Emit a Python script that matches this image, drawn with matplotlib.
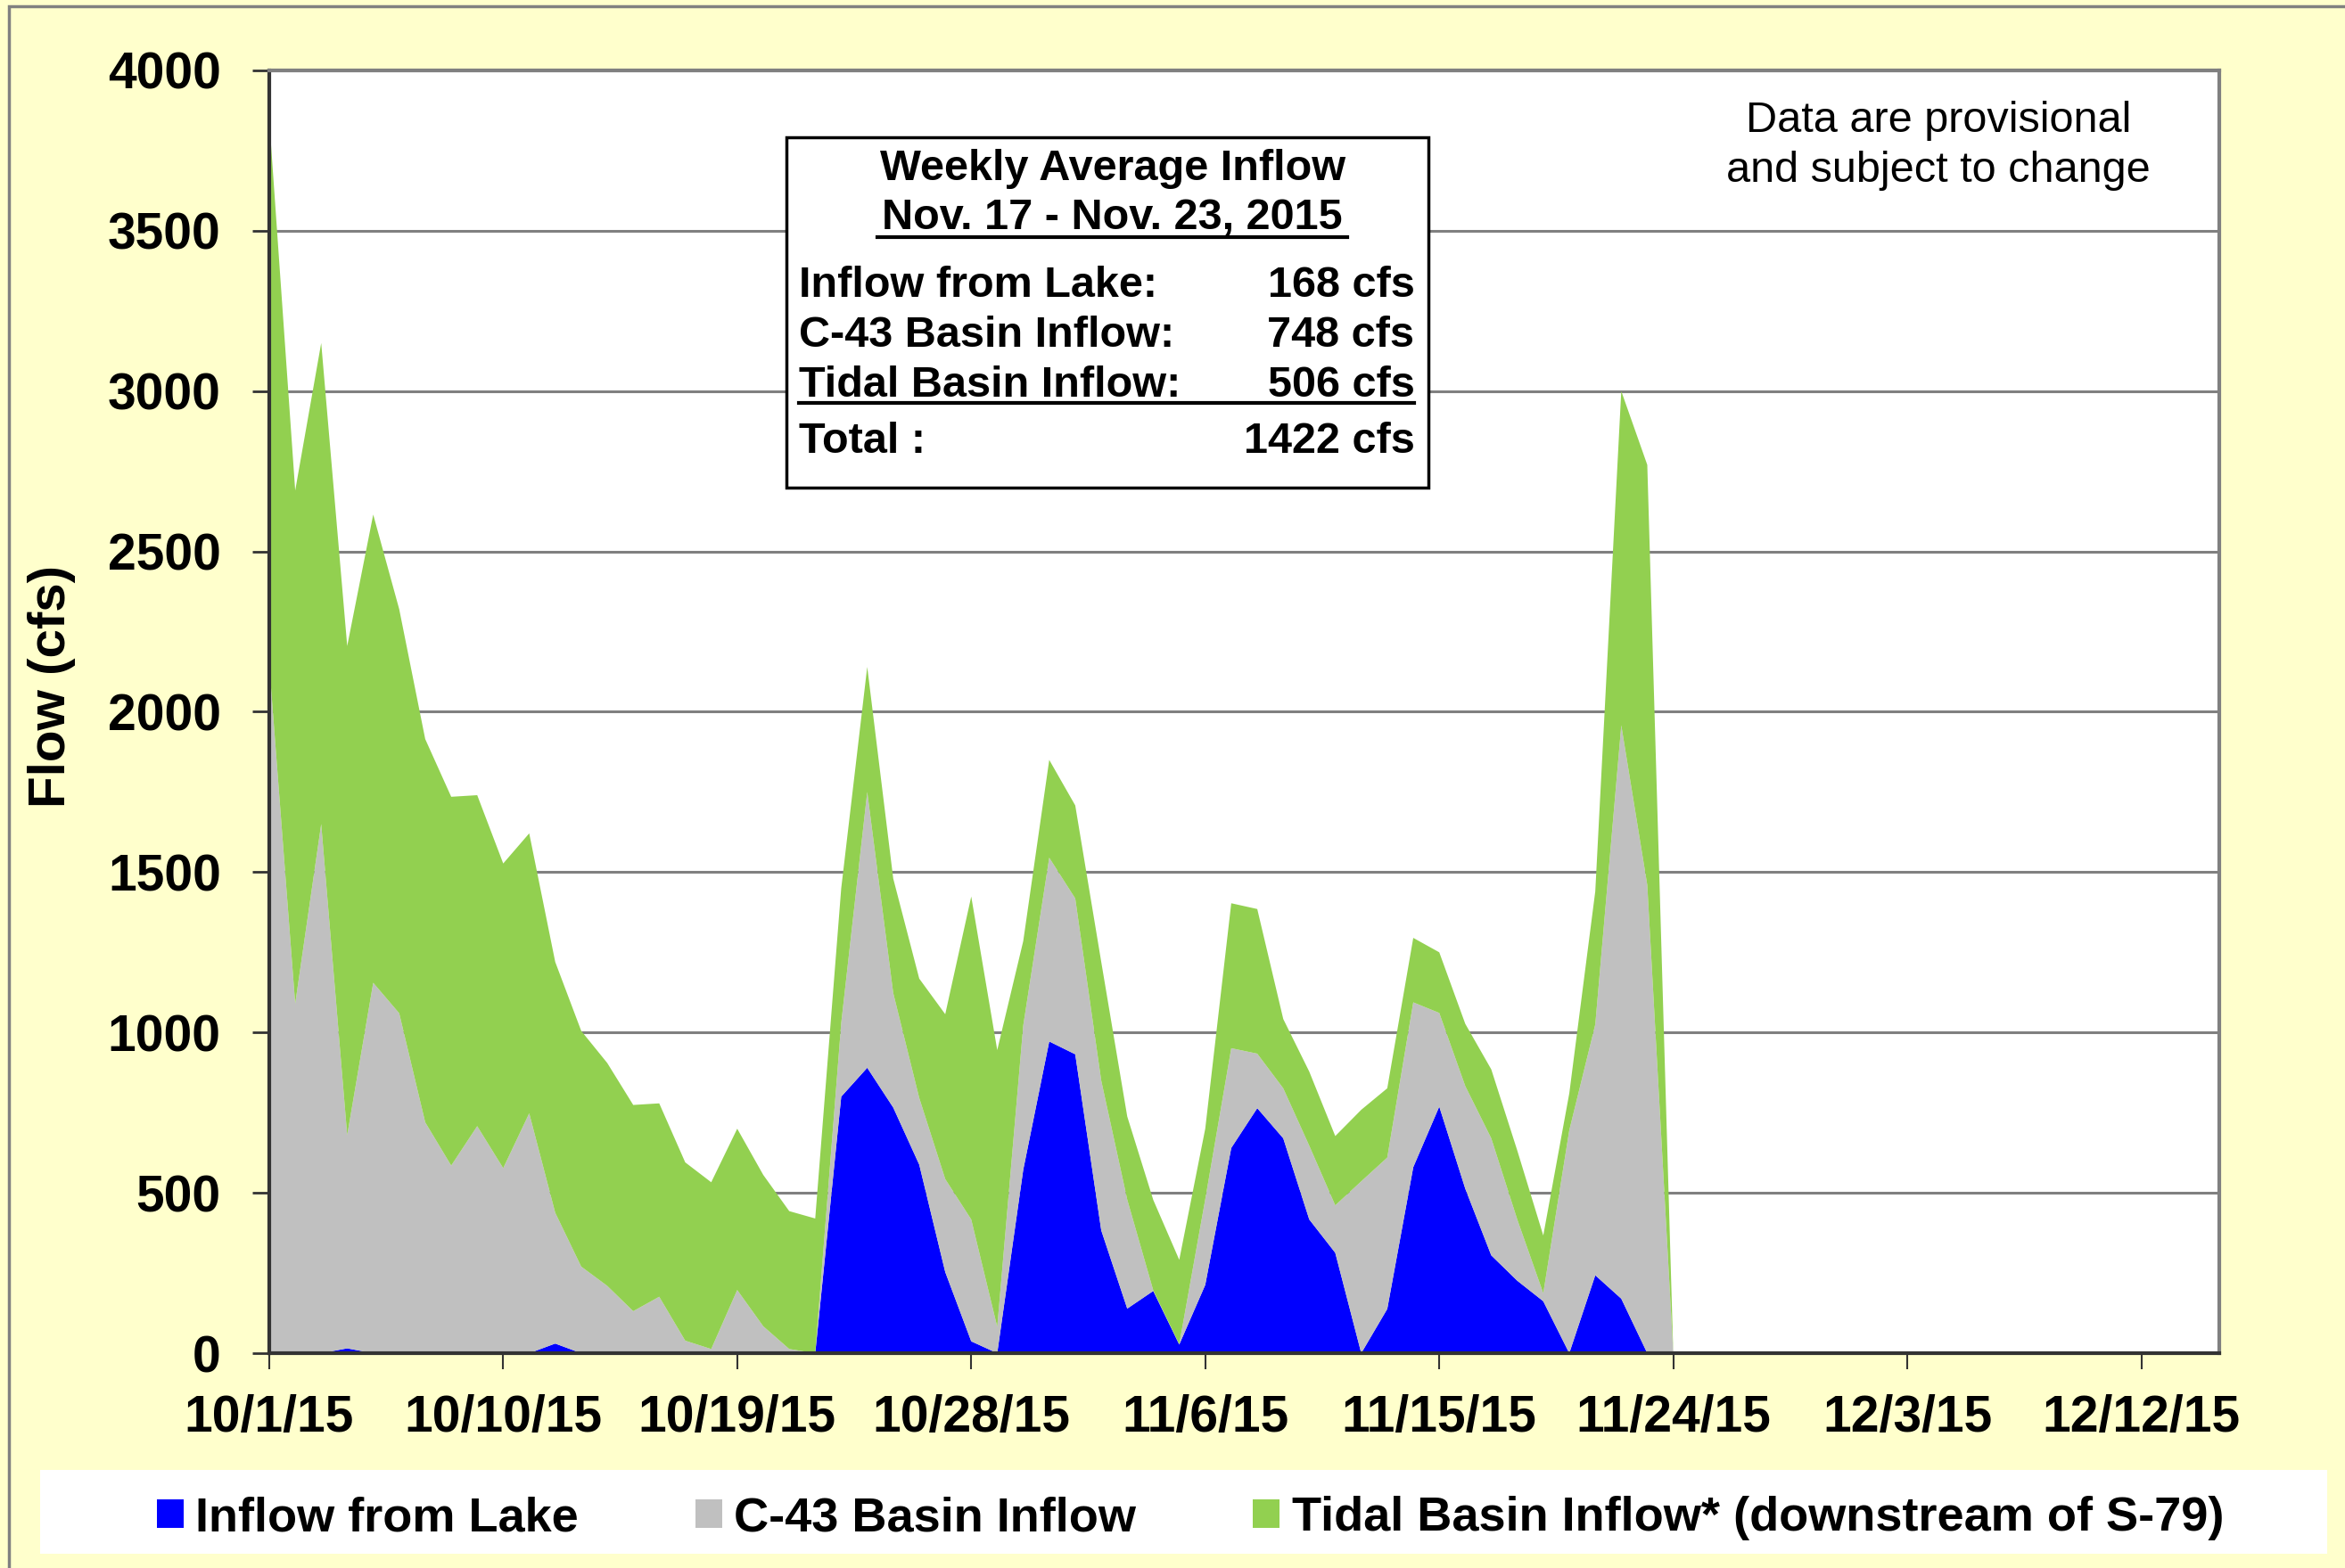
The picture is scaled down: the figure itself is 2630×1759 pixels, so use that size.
import numpy as np
import matplotlib
matplotlib.use('Agg')
import matplotlib.pyplot as plt
from matplotlib.patches import Patch, Rectangle

plt.rcParams['font.family'] = ['Liberation Sans', 'DejaVu Sans']

# daily values, day 0 = 10/1/15 ... day 54 = 11/24/15
days = np.arange(55)
lake = [0, 0, 0, 15, 0, 0, 0, 0, 0, 0,
        0, 30, 0, 0, 0, 0, 0, 0, 0, 0,
        0, 0, 800, 890, 766, 588, 253, 37, 0, 572,
        972, 932, 383, 139, 194, 27, 213, 640, 764, 670,
        417, 313, 0, 138, 580, 769, 513, 305, 226, 162,
        0, 243, 170, 0, 0]
c43 = [2150, 1090, 1650, 665, 1155, 1060, 720, 585, 708, 577,
       748, 408, 270, 210, 131, 176, 39, 13, 197, 84,
       13, 0, 230, 860, 357, 208, 290, 380, 82, 450,
       573, 486, 467, 340, 2, 1, 267, 311, 170, 156,
       230, 148, 536, 472, 514, 292, 320, 365, 191, 25,
       695, 782, 1788, 1460, 0]
tidal = [1700, 1600, 1500, 1525, 1460, 1260, 1195, 1150, 1032, 950,
         873, 782, 735, 695, 643, 603, 556, 520, 503, 472,
         430, 420, 420, 390, 357, 372, 514, 1007, 863, 263,
         305, 290, 370, 259, 282, 263, 220, 452, 451, 216,
         231, 216, 223, 216, 201, 189, 194, 215, 215, 180,
         115, 415, 1042, 1310, 0]

tick_days = [0, 9, 18, 27, 36, 45, 54, 63, 72]
tick_labels = ['10/1/15', '10/10/15', '10/19/15', '10/28/15', '11/6/15',
               '11/15/15', '11/24/15', '12/3/15', '12/12/15']
series_names = ['Inflow from Lake', 'C-43 Basin Inflow',
                'Tidal Basin Inflow* (downstream of S-79)']
colors = ['#0000FF', '#C0C0C0', '#92D050']

box_rows = ['Inflow from Lake:', 'C-43 Basin Inflow:', 'Tidal Basin Inflow:']
box_vals = ['168 cfs', '748 cfs', '506 cfs']
box_total = '1422 cfs'

fig = plt.figure(figsize=(26.3, 17.59), dpi=100, facecolor='#FFFFCC')
ax = fig.add_axes([0.1148, 0.137, 0.8316, 0.8181])

ax.stackplot(days, lake, c43, tidal, colors=colors, linewidth=0)

ax.set_xlim(0, 75)
ax.set_ylim(0, 4000)
ax.set_yticks(range(0, 4001, 500))
ax.set_xticks(tick_days)
ax.set_xticklabels(tick_labels)
ax.set_axisbelow(True)
ax.yaxis.grid(True, color='#808080', linewidth=2.2)

for lab in ax.get_xticklabels() + ax.get_yticklabels():
    lab.set_fontweight('bold')
    lab.set_fontsize(41)
ax.tick_params(axis='x', direction='out', length=13, width=1.5, pad=20, colors='#333333', labelcolor='black')
ax.tick_params(axis='y', direction='out', length=14, width=2, pad=25, colors='#333333', labelcolor='black')

for s in ['top', 'right']:
    ax.spines[s].set_color('#808080')
    ax.spines[s].set_linewidth(3)
for s in ['left', 'bottom']:
    ax.spines[s].set_color('#333333')
    ax.spines[s].set_linewidth(3)

ax.set_ylabel('Flow (cfs)', fontsize=42, fontweight='bold')
ax.yaxis.set_label_coords(-0.099, 0.52)

# info box
ax.add_patch(Rectangle((19.9, 2698), 24.67, 1093, facecolor='white',
                       edgecolor='black', linewidth=2.5, zorder=5))
ax.text(32.43, 3692, 'Weekly Average Inflow', fontsize=35, fontweight='bold',
        ha='center', va='center', zorder=6)
ax.text(32.43, 3538, 'Nov. 17 - Nov. 23, 2015', fontsize=35, fontweight='bold',
        ha='center', va='center', zorder=6)
ax.plot([23.4, 41.46], [3480, 3480], color='black', lw=3, zorder=6)
row_y = [3330, 3172, 3018]
for name, val, yy in zip(box_rows, box_vals, row_y):
    ax.text(20.36, yy, name, fontsize=35, fontweight='bold', ha='left', va='center', zorder=6)
    ax.text(44.05, yy, val, fontsize=35, fontweight='bold', ha='right', va='center', zorder=6)
ax.plot([20.36, 44.05], [2962, 2962], color='black', lw=3, zorder=6)
ax.text(20.36, 2842, 'Total :', fontsize=35, fontweight='bold', ha='left', va='center', zorder=6)
ax.text(44.05, 2842, box_total, fontsize=35, fontweight='bold', ha='right', va='center', zorder=6)

ax.text(64.2, 3765, 'Data are provisional\nand subject to change', fontsize=35,
        ha='center', va='center', linespacing=1.3)

# legend on a white strip
fig.patches.append(Rectangle((45 / 2630, 1 - 1743 / 1759), 2565 / 2630, 94 / 1759,
                             transform=fig.transFigure, facecolor='white', edgecolor='none'))
handles = [Patch(facecolor=c, edgecolor='none') for c in colors]
fig.legend(handles, series_names, ncol=3, mode='expand',
           bbox_to_anchor=(176 / 2630, 1 - 1750 / 1759, 2318 / 2630, 94 / 1759), loc='center',
           prop={'family': 'Liberation Sans', 'weight': 'bold', 'size': 39},
           handlelength=0.55, handleheight=0.55, handletextpad=0.25,
           borderpad=0, borderaxespad=0, frameon=False)

# outer frame
fig.patches.append(Rectangle((10 / 2630, -0.1), 1.2, 1.1 - 7 / 1759, transform=fig.transFigure,
                             fill=False, edgecolor='#808080', linewidth=2.5))

fig.savefig('out.png', dpi=100, facecolor=fig.get_facecolor())
